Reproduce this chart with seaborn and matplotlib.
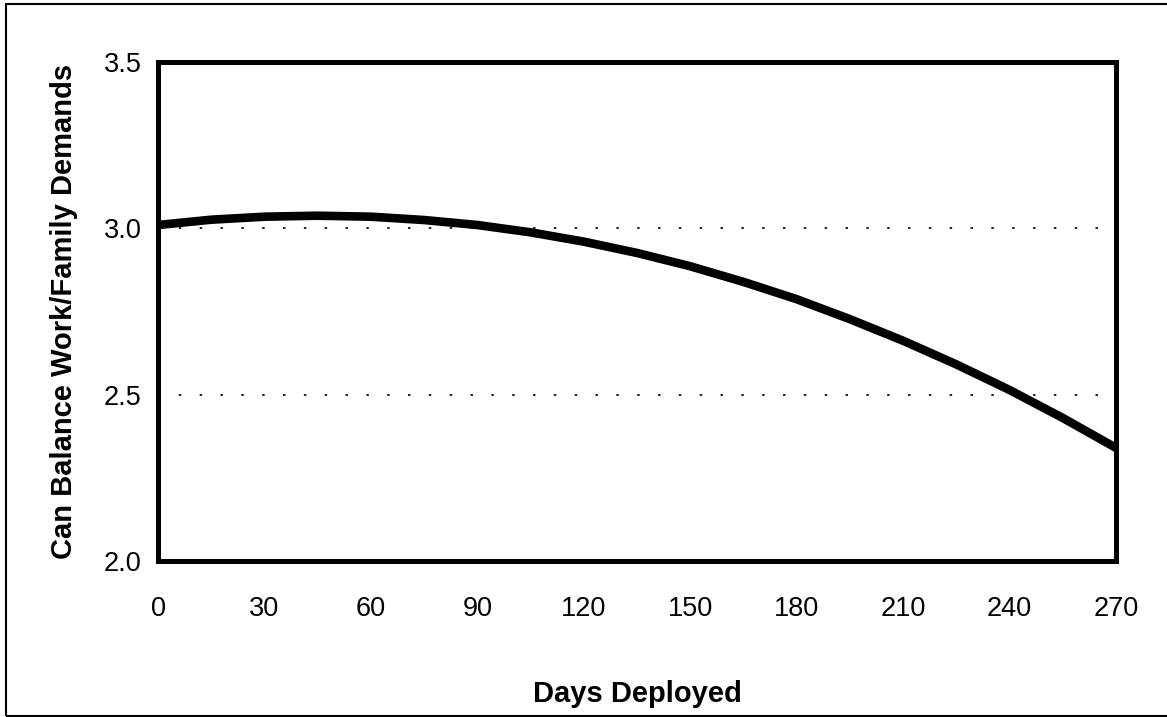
import numpy as np
import pandas as pd
import matplotlib
matplotlib.use('Agg')
import matplotlib.pyplot as plt
import seaborn as sns
from matplotlib.patches import Rectangle

# =========================
# DATA
# =========================

days = [0, 15, 30, 45, 60, 75, 90, 105, 120, 135, 150, 165, 180, 195, 210, 225, 240, 255, 270]
balance = [3.010, 3.026, 3.035, 3.038, 3.035, 3.025, 3.010, 2.988, 2.960, 2.926,
           2.886, 2.839, 2.787, 2.727, 2.662, 2.591, 2.514, 2.430, 2.340]

x_ticks = [0, 30, 60, 90, 120, 150, 180, 210, 240, 270]
y_ticks = [2.0, 2.5, 3.0, 3.5]
grid_levels = [2.5, 3.0]

df = pd.DataFrame({'Days Deployed': days, 'Balance': balance})

# =========================
# STYLE
# =========================

sns.set_style('white')
plt.rcParams['font.family'] = ['Liberation Sans', 'DejaVu Sans']
plt.rcParams['text.color'] = 'black'
plt.rcParams['axes.labelcolor'] = 'black'

fig = plt.figure(figsize=(11.67, 7.17), dpi=100)
ax = fig.add_axes([0.1354, 0.2176, 0.8209, 0.6959])

# dotted reference lines
for lvl in grid_levels:
    ax.axhline(lvl, xmax=0.985, color='black', lw=1.2,
               linestyle=(0, (1.5, 11)), zorder=1)

sns.lineplot(data=df, x='Days Deployed', y='Balance', color='black',
             linewidth=6.2, ax=ax, zorder=3)

ax.set_xlim(0, 270)
ax.set_ylim(2.0, 3.5)
ax.set_xticks(x_ticks)
ax.set_yticks(y_ticks)
ax.set_yticklabels([f'{v:.1f}' for v in y_ticks])

for side in ['left', 'right', 'top', 'bottom']:
    ax.spines[side].set_visible(True)
    ax.spines[side].set_linewidth(3.6)
    ax.spines[side].set_color('black')

ax.tick_params(axis='both', direction='out', length=6, width=1.2,
               labelsize=19.5, colors='black', pad=6)
ax.tick_params(axis='x', pad=19)

ax.set_xlabel('Days Deployed', fontsize=21, fontweight='bold', labelpad=42)
ax.set_ylabel('Can Balance Work/Family Demands', fontsize=21,
              fontweight='bold', labelpad=18)

# outer frame around the figure
fig.patches.append(Rectangle((0.005, 0.002), 1.2, 0.993, transform=fig.transFigure,
                             fill=False, edgecolor='black', lw=1.5))

fig.savefig('out.png', dpi=100)
